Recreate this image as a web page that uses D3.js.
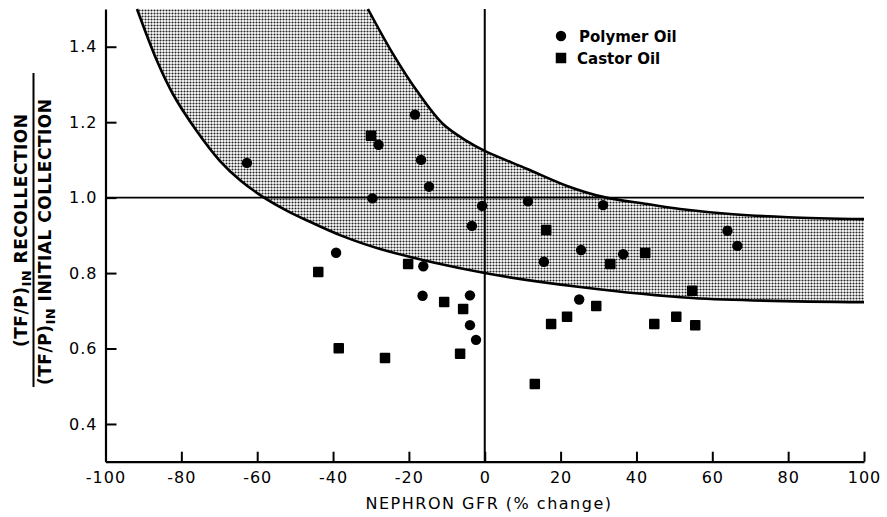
<!DOCTYPE html>
<html>
<head>
<meta charset="utf-8">
<script src="https://cdn.jsdelivr.net/npm/d3@7"></script>
<style>
  html, body { margin: 0; padding: 0; background: #fff; }
  svg { display: block; }
</style>
</head>
<body>
<svg id="chart" width="887" height="517"></svg>
<script>
// ---- data ----
const polymerX = [-62.7, -39.2, -29.6, -28.0, -18.4, -16.8, -14.7, -16.2, -16.4, -3.9, -3.9, -2.3, -3.4, -0.7, 11.4, 31.2, 15.6, 25.4, 36.5, 24.9, 64.0, 66.6];
const polymerY = [1.092, 0.854, 0.998, 1.140, 1.220, 1.100, 1.029, 0.818, 0.740, 0.741, 0.662, 0.623, 0.925, 0.978, 0.990, 0.980, 0.830, 0.861, 0.850, 0.730, 0.912, 0.872];

const castorX = [-43.9, -38.5, -26.3, -20.2, -10.7, -5.7, -6.5, 13.2, 17.5, 21.7, 29.4, 33.1, 42.3, 44.7, 50.5, 55.5, 54.7, 16.2, -30.0];
const castorY = [0.803, 0.601, 0.575, 0.824, 0.723, 0.705, 0.586, 0.506, 0.665, 0.684, 0.713, 0.824, 0.853, 0.665, 0.684, 0.662, 0.753, 0.914, 1.164];

const upperX = [-30.8, -24.2, -17.9, -11.0, -4.7, 0, 11.2, 21.7, 31.2, 42.8, 51.5, 65.5, 80, 100];
const upperY = [1.50, 1.381, 1.283, 1.195, 1.150, 1.124, 1.076, 1.031, 1.002, 0.983, 0.970, 0.956, 0.948, 0.943];

const lowerX = [-91.7, -86.4, -82.2, -75.9, -69.8, -64.5, -58.5, -52.1, -46.1, -38.0, -27.6, 0, 25.1, 54.7, 100];
const lowerY = [1.50, 1.362, 1.274, 1.176, 1.097, 1.046, 1.002, 0.965, 0.936, 0.900, 0.864, 0.800, 0.763, 0.734, 0.723];

const xTicks = [-100, -80, -60, -40, -20, 0, 20, 40, 60, 80, 100];
const yTicks = [0.4, 0.6, 0.8, 1.0, 1.2, 1.4];
const xDomain = [-100, 100];
const yDomain = [0.3, 1.5];
const legendLabels = ["Polymer Oil", "Castor Oil"];

// ---- layout ----
const svg = d3.select("#chart");
const mLeft = 105.5, mRight = 864, mTop = 9, mBottom = 461.7;
const x = d3.scaleLinear().domain(xDomain).range([mLeft, mRight]);
const y = d3.scaleLinear().domain(yDomain).range([mBottom, mTop]);

const defs = svg.append("defs");
const pat = defs.append("pattern")
  .attr("id", "stipple").attr("patternUnits", "userSpaceOnUse")
  .attr("width", 3).attr("height", 3);
pat.append("circle").attr("cx", 1.5).attr("cy", 1.5).attr("r", 1.05).attr("fill", "#222");

const upperPts = upperX.map((v, i) => [v, upperY[i]]);
const lowerPts = lowerX.map((v, i) => [v, lowerY[i]]);
const line = d3.line().x(d => x(d[0])).y(d => y(d[1])).curve(d3.curveCatmullRom.alpha(0.5));

// clip: region above lower curve
defs.append("clipPath").attr("id", "aboveLower")
  .append("path")
  .attr("d", line(lowerPts) + `L${x(100)},${y(1.5)}L${x(lowerX[0])},${y(1.5)}Z`);

// region below upper curve, clipped to above lower curve
svg.append("path")
  .attr("clip-path", "url(#aboveLower)")
  .attr("fill", "url(#stipple)")
  .attr("d", `M${x(-100)},${y(1.5)}L${x(upperX[0])},${y(1.5)}` +
    line(upperPts).replace(/^M/, "L") +
    `L${x(100)},${y(0.3)}L${x(-100)},${y(0.3)}Z`);

// boundary curves
svg.append("path").attr("d", line(upperPts)).attr("fill", "none").attr("stroke", "#000").attr("stroke-width", 2.6);
svg.append("path").attr("d", line(lowerPts)).attr("fill", "none").attr("stroke", "#000").attr("stroke-width", 2.6);

// reference lines
svg.append("line").attr("x1", x(-100)).attr("x2", x(100)).attr("y1", y(1.0)).attr("y2", y(1.0))
  .attr("stroke", "#000").attr("stroke-width", 1.8);
svg.append("line").attr("x1", x(0)).attr("x2", x(0)).attr("y1", y(1.5)).attr("y2", y(0.3))
  .attr("stroke", "#000").attr("stroke-width", 2);

// axes
const fontTick = "'DejaVu Sans', sans-serif";
const xAxis = d3.axisBottom(x).tickValues(xTicks).tickFormat(d => String(d))
  .tickSizeInner(-10).tickSizeOuter(0).tickPadding(10);
const gx = svg.append("g").attr("transform", `translate(0,${mBottom})`).call(xAxis);
const yAxis = d3.axisLeft(y).tickValues(yTicks).tickFormat(d3.format(".1f"))
  .tickSizeInner(-11).tickSizeOuter(0).tickPadding(8);
const gy = svg.append("g").attr("transform", `translate(${mLeft},0)`).call(yAxis);
[gx, gy].forEach(g => {
  g.select(".domain").attr("stroke", "#000").attr("stroke-width", 2.2);
  g.selectAll(".tick line").attr("stroke", "#000").attr("stroke-width", 2);
  g.selectAll(".tick text").attr("fill", "#000").style("font-family", fontTick)
    .style("font-size", "16px").style("letter-spacing", "1px");
});
gx.selectAll(".tick").filter(d => d === -100).select("line").remove();

// points
svg.append("g").selectAll("circle")
  .data(polymerX.map((v, i) => [v, polymerY[i]]))
  .join("circle")
  .attr("cx", d => x(d[0])).attr("cy", d => y(d[1])).attr("r", 5.2).attr("fill", "#000");
const sq = 10.5;
svg.append("g").selectAll("rect")
  .data(castorX.map((v, i) => [v, castorY[i]]))
  .join("rect")
  .attr("x", d => x(d[0]) - sq / 2).attr("y", d => y(d[1]) - sq / 2)
  .attr("width", sq).attr("height", sq).attr("rx", 1).attr("fill", "#000");

// legend
const lg = svg.append("g").style("font-family", fontTick).style("font-weight", "bold").style("font-size", "15px");
lg.append("circle").attr("cx", 561).attr("cy", 36).attr("r", 5.2).attr("fill", "#000");
lg.append("text").attr("x", 579).attr("y", 41.5).text(legendLabels[0]);
lg.append("rect").attr("x", 561 - sq / 2).attr("y", 58 - sq / 2).attr("width", sq).attr("height", sq).attr("fill", "#000");
lg.append("text").attr("x", 577).attr("y", 63.5).text(legendLabels[1]);

// x label
svg.append("text").attr("x", 489).attr("y", 509).attr("text-anchor", "middle")
  .style("font-family", fontTick).style("font-size", "16px").style("letter-spacing", "1.5px")
  .text("NEPHRON GFR (% change)");

// y label (fraction)
function yLabel(tx, ty, tail) {
  const t = svg.append("text")
    .attr("transform", `translate(${tx},${ty}) rotate(-90)`)
    .style("font-family", fontTick).style("font-weight", "bold")
    .style("font-size", "17px").style("letter-spacing", "0.5px");
  t.append("tspan").text("(TF/P)");
  t.append("tspan").attr("dy", 3.5).style("font-size", "13px").text("IN");
  t.append("tspan").attr("dy", -3.5).text(" " + tail);
}
yLabel(27, 347, "RECOLLECTION");
yLabel(51, 385, "INITIAL COLLECTION");
svg.append("line").attr("x1", 33.5).attr("x2", 33.5).attr("y1", 73).attr("y2", 387)
  .attr("stroke", "#000").attr("stroke-width", 2);
</script>
</body>
</html>
